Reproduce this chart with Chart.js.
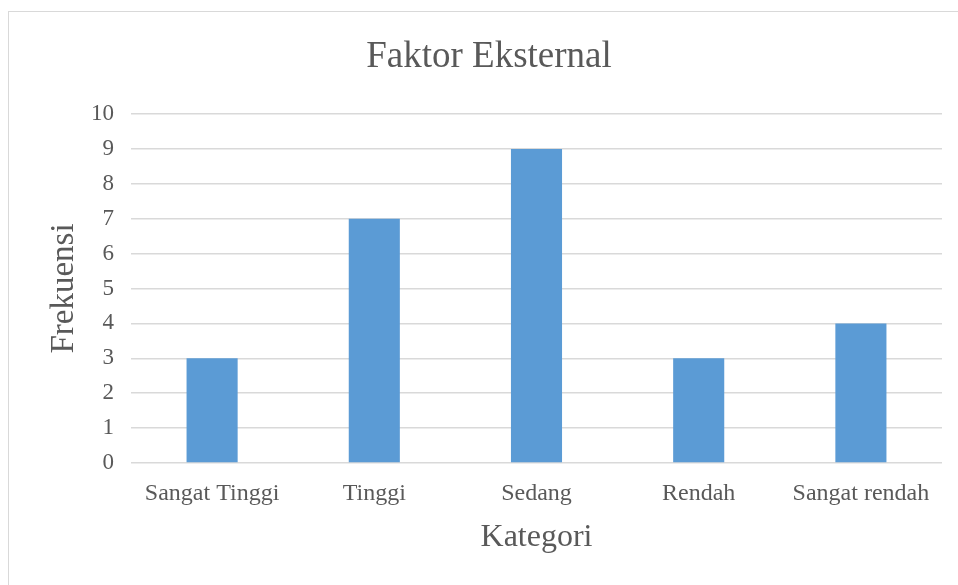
<!DOCTYPE html>
<html>
<head>
<meta charset="utf-8">
<script src="https://cdn.jsdelivr.net/npm/chart.js@4"></script>
<style>
  body { margin: 0; background: #fff; }
  .wrap { position: relative; width: 958px; height: 585px; }
  .frame { position: absolute; left: 8px; top: 11px; right: -2px; bottom: -2px; border: 1.5px solid #d9d9d9; }
  canvas { position: absolute; left: 0; top: 0; }
</style>
</head>
<body>
<div class="wrap">
  <div class="frame"></div>
  <canvas id="chart" width="958" height="585"></canvas>
</div>
<script>
// data
const chartTitle = 'Faktor Eksternal';
const categories = ['Sangat Tinggi', 'Tinggi', 'Sedang', 'Rendah', 'Sangat rendah'];
const frekuensi = [3, 7, 9, 3, 4];
const yTicks = [0, 1, 2, 3, 4, 5, 6, 7, 8, 9, 10];

const textColor = '#595959';
const serif = "'Liberation Serif', 'Times New Roman', serif";

// title centered on the frame, not on the chart area
const titlePlugin = {
  id: 'frameTitle',
  afterDraw(chart) {
    const c = chart.ctx;
    c.save();
    c.font = `37px ${serif}`;
    c.fillStyle = textColor;
    c.textAlign = 'center';
    c.textBaseline = 'middle';
    c.fillText(chartTitle, 489, 57);
    c.restore();
  }
};

const ctx = document.getElementById('chart').getContext('2d');

new Chart(ctx, {
  type: 'bar',
  data: {
    labels: categories,
    datasets: [{
      data: frekuensi,
      backgroundColor: '#5B9BD5',
      borderWidth: 0,
      barPercentage: 0.315,
      categoryPercentage: 1
    }]
  },
  options: {
    responsive: false,
    animation: false,
    layout: { padding: { left: 0, right: 16, top: 114, bottom: 0 } },
    plugins: {
      legend: { display: false },
      tooltip: { enabled: false },
      title: { display: false }
    },
    scales: {
      x: {
        grid: { display: false, drawTicks: false },
        border: { display: false },
        ticks: {
          color: textColor,
          font: { family: serif, size: 24 },
          padding: 16,
          maxRotation: 0,
          autoSkip: false
        },
        title: {
          display: true,
          text: 'Kategori',
          color: textColor,
          font: { family: serif, size: 32, lineHeight: 1.2 },
          padding: { top: 28, bottom: 28 }
        },
        afterFit: (scale) => { scale.height = 122; }
      },
      y: {
        min: 0,
        max: 10,
        afterBuildTicks: (scale) => { scale.ticks = yTicks.map(v => ({ value: v })); },
        grid: { color: '#d9d9d9', lineWidth: 1.5, drawTicks: false },
        border: { display: false },
        ticks: {
          color: textColor,
          font: { family: serif, size: 23 },
          padding: 17
        },
        title: {
          display: true,
          text: 'Frekuensi',
          color: textColor,
          font: { family: serif, size: 33, lineHeight: 1.2 },
          padding: { top: 45, bottom: 45 }
        },
        afterFit: (scale) => { scale.width = 131; }
      }
    }
  },
  plugins: [titlePlugin]
});
</script>
</body>
</html>
